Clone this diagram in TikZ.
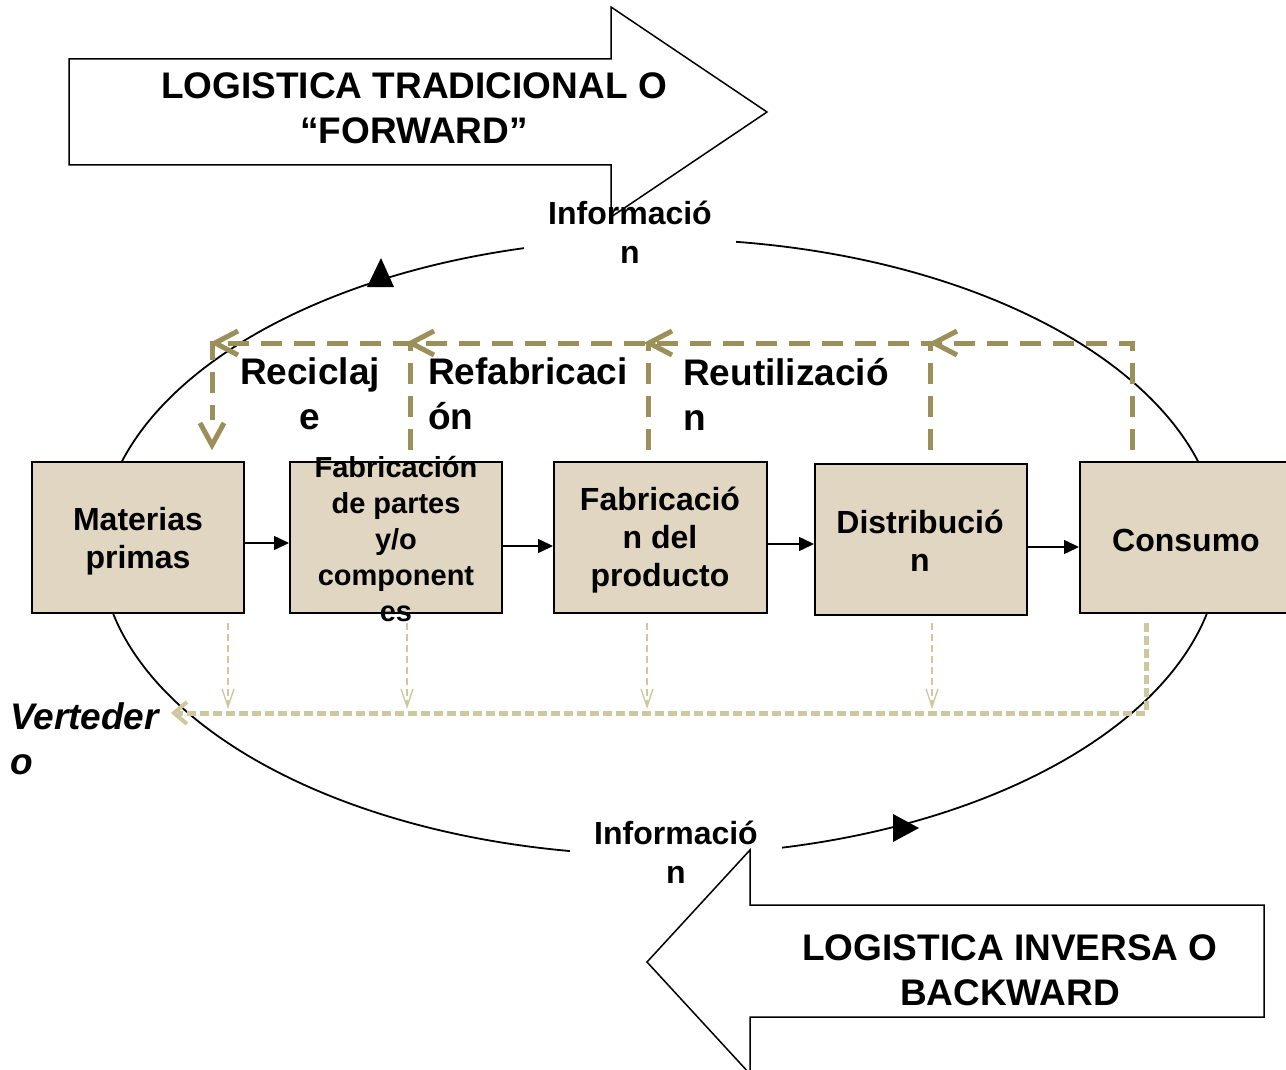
\documentclass[tikz,border=0pt]{standalone}
\usepackage{fontspec}
\setmainfont{Liberation Sans}
\usetikzlibrary{arrows.meta}
\definecolor{oliveline}{RGB}{155,143,90}
\definecolor{tanline}{RGB}{207,199,160}
\definecolor{boxfill}{RGB}{224,214,193}
\tikzset{
  stage/.style={draw=black, line width=2pt, fill=boxfill, minimum width=212pt, minimum height=151pt, inner sep=0pt},
  stagetext/.style={font=\bfseries\fontsize{32}{38}\selectfont, align=center, inner sep=0pt},
  smalltext/.style={font=\bfseries\fontsize{29}{36}\selectfont, align=center, inner sep=0pt},
  bigtext/.style={font=\bfseries\fontsize{37}{45}\selectfont, inner sep=0pt},
  infotext/.style={font=\bfseries\fontsize{32}{39}\selectfont, align=center, fill=white, inner xsep=24pt, inner ysep=3pt},
  flow/.style={-{Triangle[length=15pt,width=14pt]}, line width=1.5pt},
  recov/.style={draw=oliveline, line width=5pt, dash pattern=on 21pt off 12pt},
  chev/.style={draw=oliveline, line width=5pt},
  waste/.style={draw=tanline, line width=1.3pt, dash pattern=on 7pt off 4pt, -{Straight Barb[length=18pt,width=12pt,line width=1.4pt]}},
  wastemain/.style={draw=tanline, line width=5pt, dash pattern=on 9pt off 4pt},
  bigarrow/.style={draw=black, line width=1.5pt}
}
\begin{document}
\begin{tikzpicture}[x=1pt,y=-1pt]
\useasboundingbox (0,0) rectangle (1286,1070);
\fill[white] (0,0) rectangle (1286,1070);

% ellipse cycle
\draw[line width=1.8pt] (660,547) ellipse [x radius=560, y radius=308];
\fill (381,258) -- (367,287) -- (394,287) -- cycle;
\fill (919,828) -- (893,814) -- (893,842) -- cycle;

% information labels (they break the ellipse)
\node[infotext] (infotop) at (630,232) {Informació\\n};
\node[infotext] (infobot) at (676,852) {Informació\\n};

% big arrows
\draw[bigarrow] (69,59) -- (611,59) -- (611,7) -- (767,112) -- (611,217) -- (611,165) -- (69,165) -- cycle;
\node[bigtext, align=center] (fwd) at (414,108) {LOGISTICA TRADICIONAL O\\“FORWARD”};
\draw[bigarrow] (1264,905) -- (750,905) -- (750,850) -- (647,962) -- (750,1074) -- (750,1017) -- (1264,1017) -- cycle;
\node[bigtext, align=center] (bwd) at (1010,970) {LOGISTICA INVERSA O\\BACKWARD};

% stages
\node[stage] (m1) at (138,537.5) {};
\node[stage] (m2) at (396,537.5) {};
\node[stage, minimum width=213pt] (m3) at (660.5,537.5) {};
\node[stage] (m4) at (921,539.5) {};
\node[stage, minimum width=210pt] (m5) at (1185,537.5) {};

\node[stagetext] (t1) at (138,541) {Materias\\primas};
\node[smalltext] (t2) at (396,539) {Fabricación\\de partes\\y/o\\component\\es};
\node[stagetext] (t3) at (660,540) {Fabricació\\n del\\producto};
\node[stagetext] (t4) at (920,541) {Distribució\\n};
\node[stagetext] (t5) at (1186,540) {Consumo};

\draw[flow] (m1.east |- 0,543) -- (m2.west |- 0,543);
\draw[flow] (m2.east |- 0,546) -- (m3.west |- 0,546);
\draw[flow] (m3.east |- 0,544) -- (m4.west |- 0,544);
\draw[flow] (m4.east |- 0,547) -- (m5.west |- 0,547);

% recovery loops
\coordinate (r5) at (1132,343);
\coordinate (r1) at (212,343);
\draw[recov] (1132,450) -- (r5) -- (r1) -- (212,420);
\draw[recov] (930,450) -- (930,343);
\draw[recov] (648,450) -- (648,343);
\draw[recov] (410,450) -- (410,343);
\draw[chev] (957,331) -- (934,343) -- (957,355);
\draw[chev] (672,331) -- (649,343) -- (672,355);
\draw[chev] (434,331) -- (411,343) -- (434,355);
\draw[chev] (238,331) -- (215,343) -- (238,355);
\draw[chev] (200,423) -- (212,445) -- (224,423);

\node[bigtext, align=center] (rec) at (310,394) {Reciclaj\\e};
\node[bigtext, align=left, anchor=west] (ref) at (428,394) {Refabricaci\\ón};
\node[bigtext, align=left, anchor=west] (reu) at (683,394) {Reutilizació\\n};

% waste
\draw[waste] (228,623) -- (228,709);
\draw[waste] (407,623) -- (407,709);
\draw[waste] (647,623) -- (647,709);
\draw[waste] (932,623) -- (932,709);
\draw[wastemain] (1146,623) -- (1146,713) -- (178,713);
\draw[draw=tanline, line width=4pt] (187,702) -- (174,713) -- (187,724);
\node[bigtext, font=\bfseries\itshape\fontsize{37}{45}\selectfont, align=left, anchor=west] (vert) at (10,739) {Verteder\\o};
\end{tikzpicture}
\end{document}
